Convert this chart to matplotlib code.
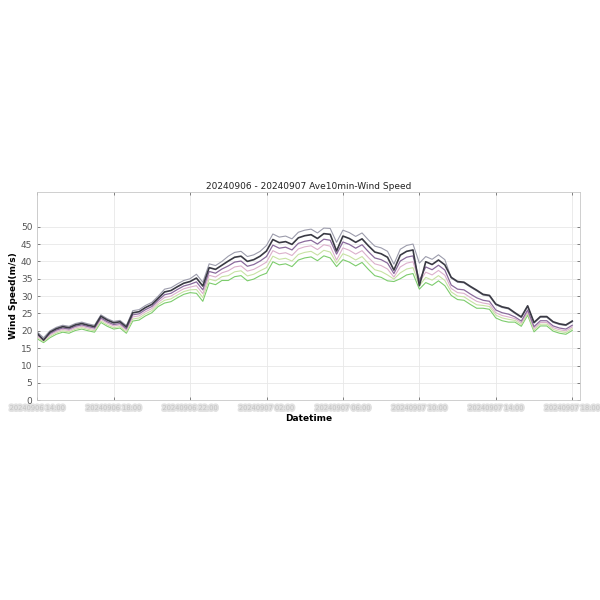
import pandas as pd
import numpy as np
import matplotlib.pyplot as plt
import matplotlib.dates as mdates
import matplotlib.patheffects as pe

# 10-min averaged wind speed, sampled every 20 min
times = pd.date_range("2024-09-06 14:00", periods=85, freq="20min")

ws_gray = [19.7, 18.0, 20.0, 21.0, 21.6, 21.3, 22.1, 22.5, 22.0, 21.6,
           24.6, 23.5, 22.7, 23.0, 21.5, 25.8, 26.1, 27.3, 28.2, 30.0,
           32.0, 32.4, 33.5, 34.5, 35.0, 36.3, 34.0, 39.3, 38.8, 40.0,
           41.5, 42.6, 42.9, 41.4, 41.9, 42.9, 44.6, 47.9, 47.0, 47.3,
           46.5, 48.4, 49.0, 49.3, 48.2, 49.6, 49.5, 45.5, 49.0, 48.3,
           47.2, 48.2, 46.2, 44.4, 43.9, 42.9, 39.2, 43.5, 44.6, 45.0,
           39.5, 41.4, 40.6, 41.9, 40.5, 35.2, 34.0, 33.8, 32.6, 31.5,
           30.3, 30.0, 27.5, 26.7, 26.3, 25.0, 23.8, 27.0, 22.2, 23.9,
           23.9, 22.4, 21.8, 21.5, 22.6]

ws_dark = [19.3, 17.3, 19.6, 20.6, 21.2, 20.9, 21.7, 22.1, 21.6, 21.2,
           24.2, 23.1, 22.3, 22.6, 21.1, 25.2, 25.5, 26.7, 27.6, 29.4,
           31.2, 31.6, 32.7, 33.7, 34.2, 35.2, 32.9, 38.2, 37.7, 38.9,
           40.1, 41.2, 41.5, 40.0, 40.5, 41.5, 43.0, 46.3, 45.4, 45.7,
           44.9, 46.8, 47.4, 47.7, 46.6, 48.0, 47.8, 43.0, 47.3, 46.6,
           45.5, 46.5, 44.5, 42.7, 42.2, 41.2, 37.5, 41.8, 42.9, 43.3,
           33.0, 39.9, 39.1, 40.4, 39.0, 35.4, 34.2, 34.0, 32.8, 31.7,
           30.5, 30.2, 27.7, 26.9, 26.5, 25.2, 24.0, 27.2, 22.4, 24.1,
           24.1, 22.6, 22.0, 21.7, 22.8]

ws_purple = [18.9, 17.5, 19.2, 20.2, 20.8, 20.5, 21.3, 21.7, 21.2, 20.8,
             23.7, 22.6, 21.8, 22.1, 20.6, 24.6, 24.9, 26.1, 27.0, 28.8,
             30.4, 30.8, 31.9, 32.9, 33.4, 34.1, 31.8, 37.1, 36.6, 37.8,
             38.7, 39.8, 40.1, 38.6, 39.1, 40.1, 41.4, 44.7, 43.8, 44.1,
             43.3, 45.2, 45.8, 46.1, 45.0, 46.4, 46.1, 42.1, 45.6, 44.9,
             43.8, 44.8, 42.8, 41.0, 40.5, 39.5, 36.5, 40.1, 41.2, 41.6,
             34.5, 38.4, 37.6, 38.9, 37.5, 33.2, 32.0, 31.8, 30.6, 29.5,
             28.8, 28.5, 26.0, 25.2, 24.8, 24.0, 22.8, 26.0, 21.2, 22.9,
             22.9, 21.4, 20.8, 20.5, 21.6]

ws_pink = [18.5, 17.2, 18.8, 19.8, 20.4, 20.1, 20.9, 21.3, 20.8, 20.4,
           23.3, 22.2, 21.4, 21.7, 20.2, 24.0, 24.3, 25.5, 26.4, 28.2,
           29.6, 30.0, 31.1, 32.1, 32.6, 33.0, 30.7, 36.0, 35.5, 36.7,
           37.3, 38.4, 38.7, 37.2, 37.7, 38.7, 39.8, 43.1, 42.2, 42.5,
           41.7, 43.6, 44.2, 44.5, 43.4, 44.8, 44.4, 40.4, 43.9, 43.2,
           42.1, 43.1, 41.1, 39.3, 38.8, 37.8, 35.5, 38.4, 39.5, 39.9,
           34.0, 36.9, 36.1, 37.4, 36.0, 32.2, 31.0, 30.8, 29.6, 28.5,
           28.0, 27.7, 25.2, 24.4, 24.0, 23.5, 22.3, 25.5, 20.7, 22.4,
           22.4, 20.9, 20.3, 20.0, 21.1]

ws_lgreen = [18.1, 16.9, 18.4, 19.4, 20.0, 19.7, 20.5, 20.9, 20.4, 20.0,
             22.8, 21.7, 20.9, 21.2, 19.7, 23.4, 23.7, 24.9, 25.8, 27.6,
             28.8, 29.2, 30.3, 31.3, 31.8, 31.9, 29.6, 34.9, 34.4, 35.6,
             35.9, 37.0, 37.3, 35.8, 36.3, 37.3, 38.2, 41.5, 40.6, 40.9,
             40.1, 42.0, 42.6, 42.9, 41.8, 43.2, 42.7, 39.5, 42.2, 41.5,
             40.4, 41.4, 39.4, 37.6, 37.1, 36.1, 34.9, 36.7, 37.8, 38.2,
             33.0, 35.4, 34.6, 35.9, 34.5, 31.2, 30.0, 29.8, 28.6, 27.5,
             27.3, 27.0, 24.5, 23.7, 23.3, 23.0, 21.8, 25.0, 20.2, 21.9,
             21.9, 20.4, 19.8, 19.5, 20.6]

ws_green = [17.7, 16.6, 18.0, 19.0, 19.6, 19.3, 20.1, 20.5, 20.0, 19.6,
            22.4, 21.3, 20.5, 20.8, 19.3, 22.8, 23.1, 24.3, 25.2, 27.0,
            28.0, 28.4, 29.5, 30.5, 31.0, 30.8, 28.5, 33.8, 33.3, 34.5,
            34.5, 35.6, 35.9, 34.4, 34.9, 35.9, 36.6, 39.9, 39.0, 39.3,
            38.5, 40.4, 41.0, 41.3, 40.2, 41.6, 41.0, 38.5, 40.5, 39.8,
            38.7, 39.7, 37.7, 35.9, 35.4, 34.4, 34.2, 35.0, 36.1, 36.5,
            32.0, 33.9, 33.1, 34.4, 33.0, 30.2, 29.0, 28.8, 27.6, 26.5,
            26.5, 26.2, 23.7, 22.9, 22.5, 22.5, 21.3, 24.5, 19.7, 21.4,
            21.4, 19.9, 19.3, 19.0, 20.1]

series = [ws_green, ws_lgreen, ws_pink, ws_purple, ws_gray, ws_dark]
colors = ["#7ccc6c", "#c8e2a4", "#dcb0cc", "#8a6a9c", "#9c9cac", "#3a3a44"]
widths = [0.8, 0.8, 0.8, 0.9, 0.8, 1.2]

fig = plt.figure(figsize=(6, 6), dpi=100)
ax = fig.add_axes([0.062, 0.333, 0.905, 0.347])

for s, c, w in zip(series, colors, widths):
    ax.plot(times, s, color=c, linewidth=w)

ax.set_ylim(0, 60)
ax.set_yticks(np.arange(0, 55, 5))
ax.set_xlim(times[0], times[-1] + pd.Timedelta(minutes=25))
ax.xaxis.set_major_locator(mdates.HourLocator(byhour=range(2, 24, 4)))
ax.xaxis.set_major_formatter(mdates.DateFormatter("%Y%m%d %H:%M"))

ax.grid(True, color="#e8e8e8", linewidth=0.6)
ax.tick_params(direction="in", top=True, right=True, length=2, width=0.5,
               labelsize=6.5, colors="#555555")
for lab in ax.get_xticklabels():
    lab.set_color("#c4c4c4")
    lab.set_fontsize(4.8)
    lab.set_path_effects([pe.withStroke(linewidth=2.5, foreground="#e2e2e2")])
for sp in ax.spines.values():
    sp.set_color("#c8c8c8")
    sp.set_linewidth(0.6)

ax.set_title("20240906 - 20240907 Ave10min-Wind Speed", fontsize=6.5, pad=2, color="#222222")
ax.set_ylabel("Wind Speed(m/s)", fontsize=6.5, fontweight="bold", labelpad=2)
ax.set_xlabel("Datetime", fontsize=6.5, fontweight="bold", labelpad=2)

fig.savefig("out.png", dpi=100, facecolor="white")
